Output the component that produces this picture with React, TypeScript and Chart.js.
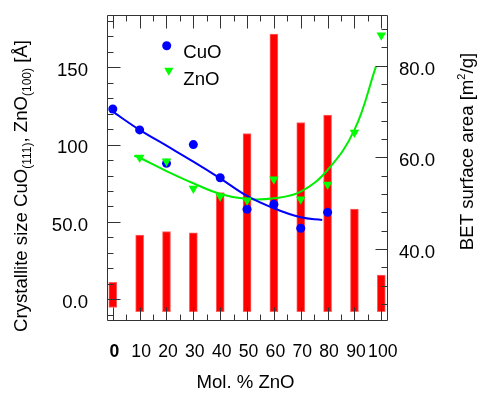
import React, { useEffect, useRef } from 'react';
import { Chart, registerables } from 'chart.js';

Chart.register(...registerables);

const FONT = '"Liberation Sans", Arial, Helvetica, sans-serif';
const FS = 18.6;
const FSX = 17.6;

// ---- data ----
const xTicks = [0, 10, 20, 30, 40, 50, 60, 70, 80, 90, 100];
const xLabels = ['0', '10', '20', '30', '40', '50', '60', '70', '80', '90', '100'];
const leftTicks = [0, 50, 100, 150];
const leftLabels = ['0.0', '50.0', '100', '150'];
const rightTicks = [40, 60, 80];
const rightLabels = ['40.0', '60.0', '80.0'];

const barX = [0, 10, 20, 30, 40, 50, 60, 70, 80, 90, 100];
const barTop = [32.7, 43.0, 43.8, 43.5, 52.3, 65.2, 86.9, 67.6, 69.2, 48.7, 34.3];
const barBase = [27.2, 26.3, 26.3, 26.3, 26.3, 26.3, 26.3, 26.3, 26.3, 26.3, 26.3];

const cuoX = [0, 10, 20, 30, 40, 50, 60, 70, 80];
const cuoY = [123.0, 109.5, 87.9, 100.0, 78.6, 58.2, 61.4, 45.9, 56.2];
const znoX = [10, 20, 30, 40, 50, 60, 70, 80, 90, 100];
const znoY = [91.6, 89.2, 71.6, 66.6, 64.0, 77.6, 64.7, 74.2, 107.8, 170.7];

const cuoFitX = [0, 10, 20, 30, 40, 50, 60, 70, 78];
const cuoFitY = [121.3, 109.5, 99.3, 89.0, 78.2, 66.8, 58.8, 53.0, 51.3];
const znoFitX = [8, 10, 20, 30, 40, 50, 60, 70, 80, 90, 98];
const znoFitY = [92.8, 91.5, 82.9, 75.0, 68.1, 64.8, 65.3, 69.6, 83.6, 109.5, 150.4];

const seriesNames = ['CuO', 'ZnO'];

const X_MIN = -2.16, X_MAX = 102.5;
const YL_MIN = -14.03, YL_MAX = 183.8;
const YR_MIN = 24.26, YR_MAX = 91.07;

const xMinor = Array.from({ length: 21 }, (_, i) => i * 5);
const leftMinor = Array.from({ length: 20 }, (_, i) => -10 + i * 10);
const rightMinor = Array.from({ length: 16 }, (_, i) => 28 + i * 4);

const AXIS = '#333333';
const BLUE = '#0000ff';
const GREEN = '#00ff00';
const GREEN_LINE = '#00ee00';
const RED = '#ff0000';

type Seg = { t: string; s: number; dy: number };

function drawRich(ctx: CanvasRenderingContext2D, segs: Seg[], cx: number, cy: number, rotate: boolean) {
  ctx.save();
  ctx.translate(cx, cy);
  if (rotate) ctx.rotate(-Math.PI / 2);
  let total = 0;
  for (const s of segs) {
    ctx.font = `${s.s}px ${FONT}`;
    total += ctx.measureText(s.t).width;
  }
  let x = -total / 2;
  ctx.textBaseline = 'alphabetic';
  ctx.textAlign = 'left';
  ctx.fillStyle = '#000';
  for (const s of segs) {
    ctx.font = `${s.s}px ${FONT}`;
    ctx.fillText(s.t, x, s.dy);
    x += ctx.measureText(s.t).width;
  }
  ctx.restore();
}

const overlay = {
  id: 'overlay',
  afterDatasetsDraw(chart: any) {
    const { ctx, chartArea: a, scales } = chart;
    const sx = scales.x, yl = scales.y, yr = scales.y2;
    const L = Math.round(a.left) + 0.5;
    const R = Math.round(a.right) - 0.5;
    const T = Math.round(a.top) + 0.5;
    const B = Math.round(a.bottom) - 0.5;
    ctx.save();
    ctx.strokeStyle = AXIS;
    ctx.lineWidth = 1;
    ctx.beginPath();
    ctx.rect(L, T, R - L, B - T);
    for (const v of xMinor) {
      const px = Math.round(sx.getPixelForValue(v)) + 0.5;
      const len = xTicks.includes(v) ? 13 : 6;
      ctx.moveTo(px, B); ctx.lineTo(px, B - len);
      ctx.moveTo(px, T); ctx.lineTo(px, T + len);
    }
    for (const v of leftMinor) {
      const py = Math.round(yl.getPixelForValue(v)) + 0.5;
      if (py < T || py > B) continue;
      const len = leftTicks.includes(v) ? 13 : 6;
      ctx.moveTo(L, py); ctx.lineTo(L + len, py);
    }
    for (const v of rightMinor) {
      const py = Math.round(yr.getPixelForValue(v)) + 0.5;
      if (py < T || py > B) continue;
      const len = rightTicks.includes(v) ? 12 : 6;
      ctx.moveTo(R, py); ctx.lineTo(R - len, py);
    }
    ctx.stroke();
    ctx.restore();
  },
  afterDraw(chart: any) {
    const { ctx } = chart;
    ctx.save();
    ctx.fillStyle = BLUE;
    ctx.beginPath();
    ctx.arc(166.7, 45.8, 4.5, 0, Math.PI * 2);
    ctx.fill();
    ctx.fillStyle = GREEN;
    const r = 5.3, cx = 168.8, cy = 70.4;
    ctx.beginPath();
    ctx.moveTo(cx, cy + r);
    ctx.lineTo(cx - r * Math.sin(Math.PI / 3), cy - r / 2);
    ctx.lineTo(cx + r * Math.sin(Math.PI / 3), cy - r / 2);
    ctx.closePath();
    ctx.fill();
    ctx.fillStyle = '#000';
    ctx.font = `${FS}px ${FONT}`;
    ctx.textAlign = 'left';
    ctx.textBaseline = 'alphabetic';
    ctx.fillText(seriesNames[0], 183.3, 58.3);
    ctx.fillText(seriesNames[1], 183.3, 85.0);
    ctx.restore();

    drawRich(ctx, [
      { t: 'Crystallite size CuO', s: FS, dy: 0 },
      { t: '(111)', s: 12, dy: 4 },
      { t: ', ZnO', s: FS, dy: 0 },
      { t: '(100)', s: 12, dy: 4 },
      { t: ' [Å]', s: FS, dy: 0 },
    ], 26.5, 186, true);
    drawRich(ctx, [
      { t: 'BET surface area [m', s: FS, dy: 0 },
      { t: '2', s: 11, dy: -8 },
      { t: '/g]', s: FS, dy: 0 },
    ], 472.5, 151.5, true);
    drawRich(ctx, [{ t: 'Mol. % ZnO', s: FS, dy: 0 }], 245.5, 387.7, false);
  },
};

const noPad = (s: any) => {
  s.paddingTop = 0; s.paddingBottom = 0; s.paddingLeft = 0; s.paddingRight = 0;
};

export default function App() {
  const ref = useRef<HTMLCanvasElement | null>(null);
  useEffect(() => {
    if (!ref.current) return;
    const chart = new Chart(ref.current, {
      data: {
        datasets: [
          {
            type: 'scatter',
            label: seriesNames[1],
            data: znoX.map((x, i) => ({ x, y: znoY[i] })),
            yAxisID: 'y',
            pointStyle: 'triangle',
            rotation: 180,
            pointRadius: 5.5,
            backgroundColor: GREEN,
            borderWidth: 0,
            order: 0,
          } as any,
          {
            type: 'scatter',
            label: seriesNames[0],
            data: cuoX.map((x, i) => ({ x, y: cuoY[i] })),
            yAxisID: 'y',
            pointStyle: 'circle',
            pointRadius: 4.5,
            backgroundColor: BLUE,
            borderWidth: 0,
            order: 1,
          } as any,
          {
            type: 'line',
            label: 'CuO fit',
            data: cuoFitX.map((x, i) => ({ x, y: cuoFitY[i] })),
            yAxisID: 'y',
            borderColor: BLUE,
            borderWidth: 2,
            pointRadius: 0,
            tension: 0.4,
            fill: false,
            order: 2,
          } as any,
          {
            type: 'line',
            label: 'ZnO fit',
            data: znoFitX.map((x, i) => ({ x, y: znoFitY[i] })),
            yAxisID: 'y',
            borderColor: GREEN_LINE,
            borderWidth: 2,
            pointRadius: 0,
            tension: 0.4,
            fill: false,
            order: 3,
          } as any,
          {
            type: 'bar',
            label: 'BET',
            data: barX.map((x, i) => ({ x, y: [barBase[i], barTop[i]] })),
            yAxisID: 'y2',
            backgroundColor: RED,
            borderColor: 'rgba(255,80,80,0.9)',
            borderWidth: 1,
            borderSkipped: false,
            barThickness: 8,
            order: 4,
          } as any,
        ],
      },
      options: {
        animation: false,
        responsive: false,
        layout: { padding: { top: 15, left: 0, right: 0, bottom: 0 } },
        plugins: { legend: { display: false }, tooltip: { enabled: false }, title: { display: false } },
        scales: {
          x: {
            type: 'linear',
            position: 'bottom',
            min: X_MIN,
            max: X_MAX,
            offset: false,
            grid: { display: false, drawTicks: false },
            border: { display: false },
            afterBuildTicks: (s: any) => { s.ticks = xTicks.map((v) => ({ value: v })); },
            afterFit: (s: any) => { s.height = 73; noPad(s); },
            ticks: {
              padding: 20.3,
              labelOffset: 1.5,
              color: '#000',
              maxRotation: 0,
              autoSkip: false,
              font: (c: any) => ({ family: FONT, size: FSX, weight: c.tick && c.tick.value === 0 ? 'bold' : 'normal' }),
              callback: (_v: any, i: number) => xLabels[i],
            },
          },
          y: {
            type: 'linear',
            position: 'left',
            min: YL_MIN,
            max: YL_MAX,
            grid: { display: false, drawTicks: false },
            border: { display: false },
            afterBuildTicks: (s: any) => { s.ticks = leftTicks.map((v) => ({ value: v })); },
            afterFit: (s: any) => { s.width = 107; noPad(s); },
            ticks: {
              padding: 19,
              labelOffset: 3.5,
              color: '#000',
              autoSkip: false,
              font: { family: FONT, size: FS },
              callback: (_v: any, i: number) => leftLabels[i],
            },
          },
          y2: {
            type: 'linear',
            position: 'right',
            min: YR_MIN,
            max: YR_MAX,
            grid: { display: false, drawTicks: false },
            border: { display: false },
            afterBuildTicks: (s: any) => { s.ticks = rightTicks.map((v) => ({ value: v })); },
            afterFit: (s: any) => { s.width = 90; noPad(s); },
            ticks: {
              padding: 11,
              labelOffset: 4,
              color: '#000',
              autoSkip: false,
              font: { family: FONT, size: FS },
              callback: (_v: any, i: number) => rightLabels[i],
            },
          },
        },
      } as any,
      plugins: [overlay],
    });
    return () => chart.destroy();
  }, []);

  return (
    <div style={{ position: 'absolute', left: 0, top: 0, width: 478, height: 394, background: '#fff' }}>
      <canvas ref={ref} width={478} height={394} style={{ display: 'block', width: 478, height: 394 }} />
    </div>
  );
}
